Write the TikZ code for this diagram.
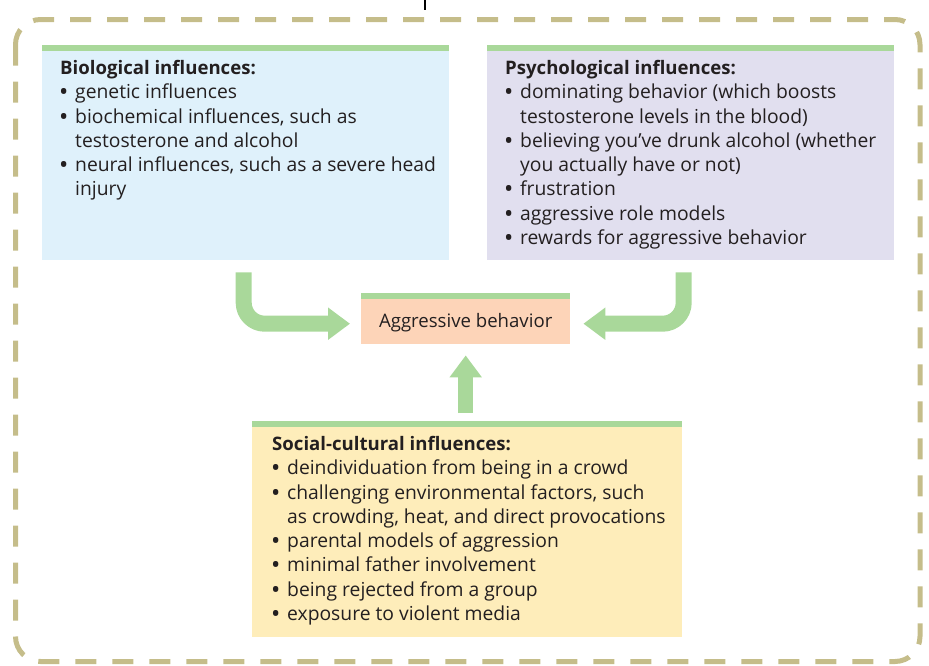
\documentclass[tikz,border=0pt]{standalone}
\usepackage{fontspec}
\setmainfont{Open Sans}
\usetikzlibrary{arrows.meta,positioning}

\definecolor{bordertan}{RGB}{197,189,138}
\definecolor{stripegreen}{RGB}{169,216,154}
\definecolor{bioblue}{RGB}{223,241,251}
\definecolor{psychlilac}{RGB}{225,223,239}
\definecolor{aggrpeach}{RGB}{253,212,184}
\definecolor{socyellow}{RGB}{254,237,186}
\definecolor{textgray}{RGB}{35,31,32}

\newcommand{\bitem}[1]{\makebox[15pt][l]{\textbf{\textbullet}}#1}
\newcommand{\contline}[1]{\hspace*{15pt}#1}
\newcommand{\boxhead}[1]{{\fontsize{18.6}{24.3}\selectfont\bfseries #1}}

\begin{document}
\begin{tikzpicture}[x=1pt,y=-1pt,line join=round,
	box/.style={inner sep=0pt,anchor=north west,path picture={\fill[stripegreen] (path picture bounding box.north west) rectangle ([yshift=-6pt]path picture bounding box.north east);}},
	txt/.style={inner sep=0pt,anchor=north west,align=left,text=textgray,font=\fontsize{19.3}{24.3}\selectfont},
	bigarrow/.style={draw=stripegreen,line width=16pt,-{Triangle[length=22pt,width=31pt]}}]
		\useasboundingbox (0,0) rectangle (929,665);
		% cadre
		\draw[bordertan,line width=5pt,dash pattern=on 21pt off 16pt,rounded corners=25pt] (15.5,19.5) rectangle (920,661.5);
		\draw[line width=1.2pt] (425,0) -- (425,10);
		% boites
		\node[box,fill=bioblue,minimum width=407pt,minimum height=215pt] (bio) at (42,45) {};
		\node[box,fill=psychlilac,minimum width=407pt,minimum height=215pt] (psych) at (487,45) {};
		\node[box,fill=aggrpeach,minimum width=209pt,minimum height=51pt] (aggr) at (361,293) {};
		\node[box,fill=socyellow,minimum width=430pt,minimum height=216pt] (soc) at (252,421) {};
		% textes
		\node[txt] (biotxt) at (60,60) {\boxhead{Biological influences:}\\
			\bitem{genetic influences}\\
			\bitem{biochemical influences, such as}\\
			\contline{testosterone and alcohol}\\
			\bitem{neural influences, such as a severe head}\\
			\contline{injury}};
		\node[txt] (psychtxt) at (505,60) {\boxhead{Psychological influences:}\\
			\bitem{dominating behavior (which boosts}\\
			\contline{testosterone levels in the blood)}\\
			\bitem{believing you’ve drunk alcohol (whether}\\
			\contline{you actually have or not)}\\
			\bitem{frustration}\\
			\bitem{aggressive role models}\\
			\bitem{rewards for aggressive behavior}};
		\node[txt] (soctxt) at (272,436) {\boxhead{Social-cultural influences:}\\
			\bitem{deindividuation from being in a crowd}\\
			\bitem{challenging environmental factors, such}\\
			\contline{as crowding, heat, and direct provocations}\\
			\bitem{parental models of aggression}\\
			\bitem{minimal father involvement}\\
			\bitem{being rejected from a group}\\
			\bitem{exposure to violent media}};
		\node[text=textgray,font=\fontsize{18.6}{20}\selectfont] (aggrtxt) at ([yshift=-3.5pt]aggr.center) {Aggressive behavior};
		% fleches
		\draw[bigarrow,rounded corners=21pt] ([xshift=-2pt,yshift=-12pt]bio.south) |- ([xshift=-11pt,yshift=-5pt]aggr.west);
		\draw[bigarrow,rounded corners=21pt] ([xshift=-7pt,yshift=-12pt]psych.south) |- ([xshift=13pt,yshift=-5pt]aggr.east);
		\draw[bigarrow,line width=15pt] ([xshift=-1.5pt,yshift=8pt]soc.north) -- ([yshift=-11pt]aggr.south);
\end{tikzpicture}
\end{document}
